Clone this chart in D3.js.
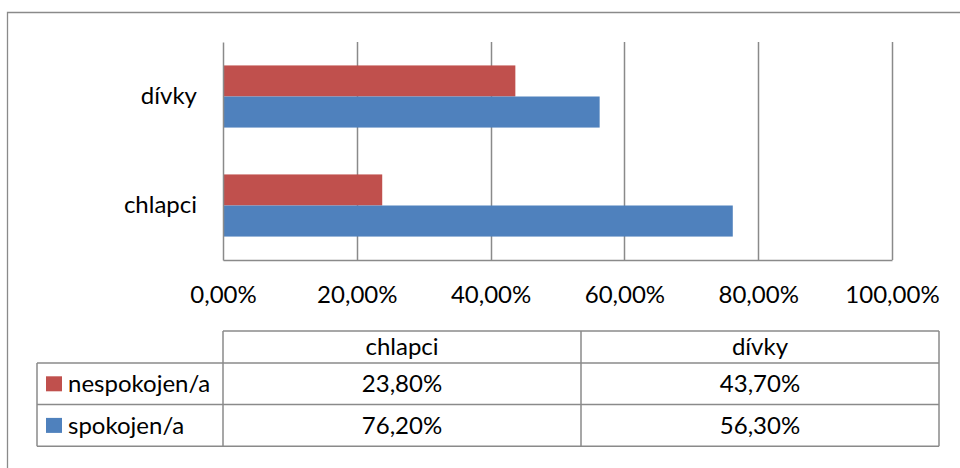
<!DOCTYPE html>
<html>
<head>
<meta charset="utf-8">
<script src="https://cdn.jsdelivr.net/npm/d3@7"></script>
<style>
  html, body { margin: 0; padding: 0; background: #fff; }
  svg { display: block; font-family: Lato, "Open Sans", sans-serif; }
</style>
</head>
<body>
<svg id="chart" width="960" height="468"></svg>
<script>
// Categories (top to bottom in the chart) and the two answer groups
const categories = ["dívky", "chlapci"];
const tableColumns = ["chlapci", "dívky"];
const seriesNames = ["nespokojen/a", "spokojen/a"];
const seriesColors = ["#C0504D", "#4F81BD"];
// Shares per category, in the order of tableColumns
const nespokojen = [0.238, 0.437];
const spokojen = [0.762, 0.563];
const tickValues = [0, 0.2, 0.4, 0.6, 0.8, 1.0];

const seriesValues = [nespokojen, spokojen];
const valueOf = (si, cat) => seriesValues[si][tableColumns.indexOf(cat)];

const czLocale = d3.formatLocale({ decimal: ",", thousands: " ", grouping: [3], currency: ["", " Kč"] });
const pct = czLocale.format(".2%");

const svg = d3.select("#chart");
const gridColor = "#8a8a8a";
const fontSize = 24;

// Outer chart frame (continues past the right and bottom edges)
svg.append("path")
  .attr("d", "M7.5,470 V12.5 H970")
  .attr("fill", "none")
  .attr("stroke", gridColor)
  .attr("stroke-width", 1.3);

const plot = { left: 223, right: 892, top: 42, bottom: 260 };

const x = d3.scaleLinear().domain([0, 1]).range([plot.left, plot.right]);
const y0 = d3.scaleBand().domain(categories).range([plot.top, plot.bottom])
  .paddingInner(0.43).paddingOuter(0.215);
const y1 = d3.scaleBand().domain(seriesNames).range([0, y0.bandwidth()]);

// Vertical gridlines
svg.append("g")
  .selectAll("line")
  .data(tickValues.filter(v => v > 0))
  .join("line")
  .attr("x1", d => Math.round(x(d)) + 0.5)
  .attr("x2", d => Math.round(x(d)) + 0.5)
  .attr("y1", plot.top)
  .attr("y2", plot.bottom)
  .attr("stroke", gridColor)
  .attr("stroke-width", 1.5);

// Bars
const groups = svg.append("g")
  .selectAll("g")
  .data(categories)
  .join("g")
  .attr("transform", d => `translate(0,${y0(d)})`);

groups.selectAll("rect")
  .data(cat => seriesNames.map((s, i) => ({ cat, series: s, i, value: valueOf(i, cat) })))
  .join("rect")
  .attr("x", x(0))
  .attr("y", d => y1(d.series))
  .attr("width", d => x(d.value) - x(0))
  .attr("height", y1.bandwidth())
  .attr("fill", d => seriesColors[d.i]);

// X axis
const xAxis = svg.append("g")
  .attr("transform", `translate(0,${plot.bottom})`)
  .call(d3.axisBottom(x).tickValues(tickValues).tickFormat(pct).tickSize(0).tickPadding(26));
xAxis.select(".domain").attr("stroke", gridColor).attr("stroke-width", 1.5);
xAxis.selectAll("text")
  .attr("font-size", fontSize)
  .attr("font-family", "Lato, 'Open Sans', sans-serif")
  .attr("fill", "#000");

// Y axis
const yAxis = svg.append("g")
  .attr("transform", `translate(${plot.left},0)`)
  .call(d3.axisLeft(y0).tickSize(0).tickPadding(26));
yAxis.select(".domain").attr("stroke", gridColor).attr("stroke-width", 1.5);
yAxis.selectAll("text")
  .attr("font-size", fontSize)
  .attr("font-family", "Lato, 'Open Sans', sans-serif")
  .attr("fill", "#000");

// Data table below the chart
const table = { left: 37, colStart: 223, colWidth: 358, top: 331, headH: 32, rowH: 41.6 };
const colX = d3.scaleBand().domain(tableColumns)
  .range([table.colStart, table.colStart + table.colWidth * tableColumns.length]);
const rowTop = i => table.top + table.headH + i * table.rowH;
const tableRight = table.colStart + table.colWidth * tableColumns.length;
const tableBottom = rowTop(seriesNames.length);

const tg = svg.append("g").attr("stroke", gridColor).attr("stroke-width", 1.5).attr("fill", "none");
// horizontal lines
tg.append("line").attr("x1", table.colStart).attr("x2", tableRight).attr("y1", table.top).attr("y2", table.top);
d3.range(seriesNames.length + 1).forEach(i => {
  tg.append("line").attr("x1", table.left).attr("x2", tableRight)
    .attr("y1", rowTop(i)).attr("y2", rowTop(i));
});
// vertical lines
tg.append("line").attr("x1", table.left).attr("x2", table.left).attr("y1", rowTop(0)).attr("y2", tableBottom);
tableColumns.forEach(c => {
  tg.append("line").attr("x1", colX(c)).attr("x2", colX(c)).attr("y1", table.top).attr("y2", tableBottom);
});
tg.append("line").attr("x1", tableRight).attr("x2", tableRight).attr("y1", table.top).attr("y2", tableBottom);

const textStyle = sel => sel
  .attr("font-size", fontSize)
  .attr("fill", "#000");

// column headers
svg.append("g").selectAll("text")
  .data(tableColumns)
  .join("text")
  .attr("x", d => colX(d) + colX.bandwidth() / 2)
  .attr("y", table.top + table.headH / 2)
  .attr("dy", "0.35em")
  .attr("text-anchor", "middle")
  .call(textStyle)
  .text(d => d);

// row headers with legend keys
const rows = svg.append("g").selectAll("g")
  .data(seriesNames)
  .join("g")
  .attr("transform", (d, i) => `translate(0,${rowTop(i)})`);

rows.append("rect")
  .attr("x", 46)
  .attr("y", table.rowH / 2 - 7.5)
  .attr("width", 16)
  .attr("height", 15)
  .attr("fill", (d, i) => seriesColors[i]);

rows.append("text")
  .attr("x", 68)
  .attr("y", table.rowH / 2)
  .attr("dy", "0.35em")
  .call(textStyle)
  .text(d => d);

// values
rows.each(function (s, si) {
  d3.select(this).selectAll("text.val")
    .data(tableColumns)
    .join("text")
    .attr("class", "val")
    .attr("x", c => colX(c) + colX.bandwidth() / 2)
    .attr("y", table.rowH / 2)
    .attr("dy", "0.35em")
    .attr("text-anchor", "middle")
    .call(textStyle)
    .text(c => pct(valueOf(si, c)));
});
</script>
</body>
</html>
